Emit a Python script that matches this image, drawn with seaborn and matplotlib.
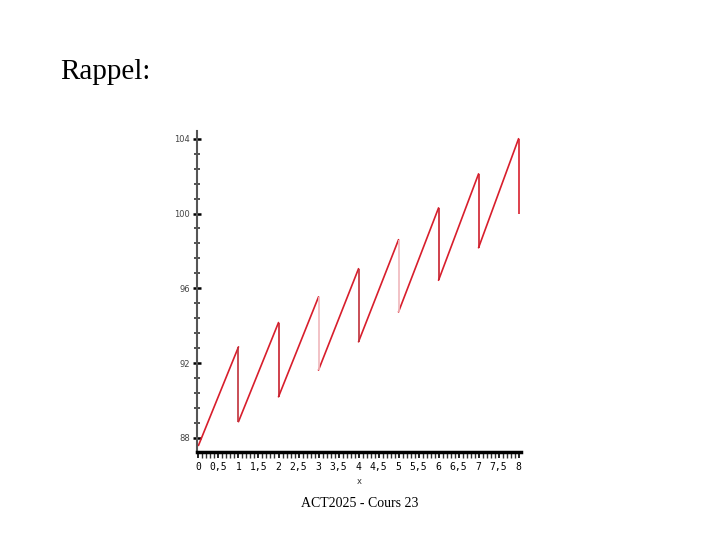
import numpy as np
import pandas as pd
import matplotlib.pyplot as plt
import seaborn as sns
from matplotlib.ticker import MultipleLocator, FixedLocator, FuncFormatter

# --- Data ---
coupon_times = [1, 2, 3, 4, 5, 6, 7, 8]
start_values = [87.6, 88.87, 90.2, 91.63, 93.14, 94.74, 96.43, 98.17]   # value just after each coupon (period start)
peak_values = [92.87, 94.17, 95.54, 97.05, 98.6, 100.3, 102.12, 104.0]  # value just before each coupon
after_drop = [88.87, 90.2, 91.63, 93.14, 94.74, 96.43, 98.17, 100.0]
drop_colors = ["#c0303a", "#c8202e", "#f0b8bc", "#c0303a", "#f0b8bc", "#c8202e", "#d0202e", "#d8202e"]

y_ticks = [88, 92, 96, 100, 104]
x_ticks = [0, 0.5, 1, 1.5, 2, 2.5, 3, 3.5, 4, 4.5, 5, 5.5, 6, 6.5, 7, 7.5, 8]

# --- Build the ramps (one unit per period) ---
rows = []
for i, t in enumerate(coupon_times):
    rows.append({"x": t - 1, "y": start_values[i], "period": i})
    rows.append({"x": t, "y": peak_values[i], "period": i})
df = pd.DataFrame(rows)

sns.set_style("white")
plt.rcParams["font.family"] = ["DejaVu Sans"]
plt.rcParams["text.color"] = "black"

fig = plt.figure(figsize=(7.2, 5.4), dpi=100)
ax = fig.add_axes([0.274, 0.163, 0.449, 0.594])

sns.lineplot(data=df, x="x", y="y", units="period", estimator=None,
             color="#d81e2c", linewidth=1.2, ax=ax, legend=False)
ax.vlines(coupon_times, after_drop, peak_values, colors=drop_colors, linewidth=1.2)

ax.set_xlim(-0.03, 8.05)
ax.set_ylim(87.25, 104.4)

# --- Axes styling ---
for s in ["top", "right"]:
    ax.spines[s].set_visible(False)
ax.spines["left"].set_color("#555555")
ax.spines["left"].set_linewidth(1.5)
ax.spines["bottom"].set_color("black")
ax.spines["bottom"].set_linewidth(2.5)

ax.yaxis.set_major_locator(FixedLocator(y_ticks))
ax.yaxis.set_minor_locator(MultipleLocator(0.8))
ax.xaxis.set_major_locator(FixedLocator(x_ticks))
ax.xaxis.set_minor_locator(MultipleLocator(0.1))

comma = FuncFormatter(lambda v, p: f"{v:g}".replace(".", ","))
ax.xaxis.set_major_formatter(comma)

ax.tick_params(which="both", left=True, bottom=True)
ax.tick_params(axis="y", which="major", direction="inout", length=6, width=1.8,
               color="black", labelsize=6, labelcolor="#444444", pad=2)
ax.tick_params(axis="y", which="minor", direction="inout", length=5, width=1.2, color="#333333")
ax.tick_params(axis="x", which="major", direction="out", length=4, width=1.2,
               color="black", labelsize=7, labelcolor="black", pad=3)
ax.tick_params(axis="x", which="minor", direction="out", length=4, width=1.0, color="#333333")
for lab in ax.get_xticklabels():
    lab.set_fontfamily("DejaVu Sans Mono")

ax.set_xlabel("x", fontsize=6, labelpad=4, color="#333333")
ax.set_ylabel("")

# --- Slide texts ---
fig.text(0.083, 0.866, "Rappel:", fontsize=21, family="Liberation Serif", ha="left", va="center")
fig.text(0.5, 0.067, "ACT2025 - Cours 23", fontsize=10, family="Liberation Serif", ha="center", va="center")

fig.savefig("out.png", dpi=100)
